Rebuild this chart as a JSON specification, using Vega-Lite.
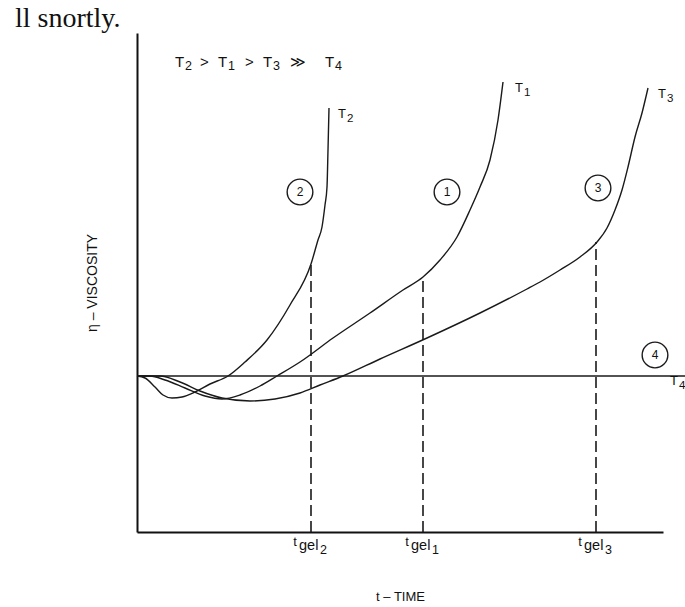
{
  "$schema": "https://vega.github.io/schema/vega-lite/v6.json",
  "width": 526,
  "height": 499,
  "autosize": "none",
  "padding": {"left": 137, "top": 33, "right": 22, "bottom": 75},
  "background": "white",
  "config": {"view": {"stroke": null}, "font": "Liberation Sans"},
  "datasets": {
    "curves": [
      {"curve": "T2", "t": 0, "eta": 31.2}, {"curve": "T2", "t": 1.6, "eta": 30.8}, {"curve": "T2", "t": 3.6, "eta": 29}, {"curve": "T2", "t": 5.2, "eta": 27.4}, {"curve": "T2", "t": 7, "eta": 26.8}, {"curve": "T2", "t": 9, "eta": 27}, {"curve": "T2", "t": 11.6, "eta": 28}, {"curve": "T2", "t": 14.6, "eta": 29.6}, {"curve": "T2", "t": 18.2, "eta": 31.2}, {"curve": "T2", "t": 21.6, "eta": 34}, {"curve": "T2", "t": 26, "eta": 38.4}, {"curve": "T2", "t": 30.6, "eta": 45.4}, {"curve": "T2", "t": 34.8, "eta": 53.6}, {"curve": "T2", "t": 36.2, "eta": 58.4}, {"curve": "T2", "t": 37, "eta": 61}, {"curve": "T2", "t": 37.6, "eta": 65.4}, {"curve": "T2", "t": 38, "eta": 69}, {"curve": "T2", "t": 38.2, "eta": 76.4}, {"curve": "T2", "t": 38.4, "eta": 84.8},
      {"curve": "T1", "t": 0, "eta": 31.2}, {"curve": "T1", "t": 2.6, "eta": 31.2}, {"curve": "T1", "t": 5.6, "eta": 30.4}, {"curve": "T1", "t": 9.6, "eta": 28.8}, {"curve": "T1", "t": 13.6, "eta": 27.2}, {"curve": "T1", "t": 17, "eta": 26.6}, {"curve": "T1", "t": 20.6, "eta": 27.4}, {"curve": "T1", "t": 24.6, "eta": 29.2}, {"curve": "T1", "t": 28, "eta": 31.2}, {"curve": "T1", "t": 32.6, "eta": 34}, {"curve": "T1", "t": 39.2, "eta": 38.8}, {"curve": "T1", "t": 46.6, "eta": 43.8}, {"curve": "T1", "t": 53.2, "eta": 48.4}, {"curve": "T1", "t": 57.2, "eta": 51}, {"curve": "T1", "t": 60.6, "eta": 54.4}, {"curve": "T1", "t": 64, "eta": 59}, {"curve": "T1", "t": 66.6, "eta": 64.4}, {"curve": "T1", "t": 68.6, "eta": 69}, {"curve": "T1", "t": 70.6, "eta": 74.4}, {"curve": "T1", "t": 72.2, "eta": 82.4}, {"curve": "T1", "t": 73.2, "eta": 90},
      {"curve": "T3", "t": 0, "eta": 31.2}, {"curve": "T3", "t": 4.6, "eta": 31.2}, {"curve": "T3", "t": 8.6, "eta": 30}, {"curve": "T3", "t": 12.6, "eta": 28.2}, {"curve": "T3", "t": 17, "eta": 26.8}, {"curve": "T3", "t": 22.6, "eta": 26.2}, {"curve": "T3", "t": 27.6, "eta": 26.6}, {"curve": "T3", "t": 32.6, "eta": 27.8}, {"curve": "T3", "t": 36.6, "eta": 29.4}, {"curve": "T3", "t": 41.2, "eta": 31.2}, {"curve": "T3", "t": 48.6, "eta": 34.6}, {"curve": "T3", "t": 58, "eta": 38.8}, {"curve": "T3", "t": 68.6, "eta": 43.8}, {"curve": "T3", "t": 78, "eta": 48.6}, {"curve": "T3", "t": 80.6, "eta": 50}, {"curve": "T3", "t": 84.6, "eta": 52.4}, {"curve": "T3", "t": 88.6, "eta": 55}, {"curve": "T3", "t": 92, "eta": 58}, {"curve": "T3", "t": 94, "eta": 60.8}, {"curve": "T3", "t": 95.6, "eta": 64.4}, {"curve": "T3", "t": 97, "eta": 68.4}, {"curve": "T3", "t": 98.2, "eta": 73}, {"curve": "T3", "t": 99.6, "eta": 79}, {"curve": "T3", "t": 101, "eta": 83.8}, {"curve": "T3", "t": 102.2, "eta": 88.8},
      {"curve": "T4", "t": 0, "eta": 31.2}, {"curve": "T4", "t": 109.6, "eta": 31.2}
    ],
    "gel": [
      {"sub": "2", "t": 34.8, "eta": 53.6},
      {"sub": "1", "t": 57.2, "eta": 51},
      {"sub": "3", "t": 91.8, "eta": 58}
    ],
    "circles": [
      {"num": "2", "t": 32.6, "eta": 68},
      {"num": "1", "t": 62, "eta": 68},
      {"num": "3", "t": 92.2, "eta": 68.8},
      {"num": "4", "t": 103.6, "eta": 35.4}
    ],
    "curveLabels": [
      {"base": "T", "sub": "2", "t": 40.2, "eta": 83.6},
      {"base": "T", "sub": "1", "t": 75.6, "eta": 88.9},
      {"base": "T", "sub": "3", "t": 104.2, "eta": 87.6},
      {"base": "T", "sub": "4", "t": 106.6, "eta": 30.2}
    ],
    "relation": [
      {"token": "T", "sub": "2", "t": 7.6, "eta": 94},
      {"token": ">", "sub": "", "t": 12.6, "eta": 94},
      {"token": "T", "sub": "1", "t": 16.2, "eta": 94},
      {"token": ">", "sub": "", "t": 21.6, "eta": 94},
      {"token": "T", "sub": "3", "t": 25.2, "eta": 94},
      {"token": "≫", "sub": "", "t": 30.6, "eta": 94},
      {"token": "T", "sub": "4", "t": 37.6, "eta": 94}
    ],
    "scan": [
      {"text": "ll snortly.", "t": -24.4, "eta": 101}
    ]
  },
  "encoding": {
    "x": {"field": "t", "type": "quantitative", "scale": {"domain": [0, 105.2], "nice": false, "zero": false},
      "axis": {"title": "t – TIME", "grid": false, "ticks": false, "labels": false, "domain": true, "domainColor": "#111", "domainWidth": 2, "titleFont": "Liberation Sans", "titleFontWeight": "normal", "titleFontSize": 13, "titleColor": "#111", "titlePadding": 58}},
    "y": {"field": "eta", "type": "quantitative", "scale": {"domain": [0, 99.8], "nice": false, "zero": false},
      "axis": {"title": "η  –  VISCOSITY", "grid": false, "ticks": false, "labels": false, "domain": true, "domainColor": "#111", "domainWidth": 2, "titleFont": "Liberation Sans", "titleFontWeight": "normal", "titleFontSize": 14, "titleColor": "#111", "titlePadding": 38}}
  },
  "layer": [
    {
      "data": {"name": "curves"},
      "mark": {"type": "line", "interpolate": "monotone", "color": "#1a1a1a", "strokeWidth": 1.4},
      "encoding": {"detail": {"field": "curve"}}
    },
    {
      "data": {"name": "gel"},
      "mark": {"type": "rule", "color": "#1a1a1a", "strokeWidth": 1.6, "strokeDash": [11, 5]},
      "encoding": {"y": {"datum": 0}, "y2": {"field": "eta"}}
    },
    {
      "data": {"name": "gel"},
      "mark": {"type": "text", "text": "t", "fontSize": 13, "align": "center", "baseline": "middle", "dx": -16, "dy": 10, "color": "#111"},
      "encoding": {"y": {"datum": 0}}
    },
    {
      "data": {"name": "gel"},
      "mark": {"type": "text", "text": "gel", "fontSize": 14.5, "align": "left", "baseline": "middle", "dx": -12, "dy": 14, "color": "#111"},
      "encoding": {"y": {"datum": 0}}
    },
    {
      "data": {"name": "gel"},
      "mark": {"type": "text", "fontSize": 12.5, "align": "left", "baseline": "middle", "dx": 9, "dy": 18, "color": "#111"},
      "encoding": {"y": {"datum": 0}, "text": {"field": "sub"}}
    },
    {
      "data": {"name": "circles"},
      "mark": {"type": "point", "shape": "circle", "filled": false, "size": 660, "stroke": "#1a1a1a", "strokeWidth": 1.4, "opacity": 1}
    },
    {
      "data": {"name": "circles"},
      "mark": {"type": "text", "fontSize": 12, "align": "center", "baseline": "middle", "color": "#111"},
      "encoding": {"text": {"field": "num"}}
    },
    {
      "data": {"name": "curveLabels"},
      "mark": {"type": "text", "fontSize": 13, "align": "left", "baseline": "middle", "color": "#111"},
      "encoding": {"text": {"field": "base"}}
    },
    {
      "data": {"name": "curveLabels"},
      "mark": {"type": "text", "fontSize": 11.5, "align": "left", "baseline": "middle", "dx": 9, "dy": 5, "color": "#111"},
      "encoding": {"text": {"field": "sub"}}
    },
    {
      "data": {"name": "relation"},
      "mark": {"type": "text", "fontSize": 15, "align": "left", "baseline": "middle", "color": "#111"},
      "encoding": {"text": {"field": "token"}}
    },
    {
      "data": {"name": "relation"},
      "mark": {"type": "text", "fontSize": 12.5, "align": "left", "baseline": "middle", "dx": 10, "dy": 4, "color": "#111"},
      "encoding": {"text": {"field": "sub"}}
    },
    {
      "data": {"name": "scan"},
      "mark": {"type": "text", "font": "Liberation Serif", "fontSize": 28, "align": "left", "baseline": "alphabetic", "color": "#111"},
      "encoding": {"text": {"field": "text"}}
    }
  ]
}
